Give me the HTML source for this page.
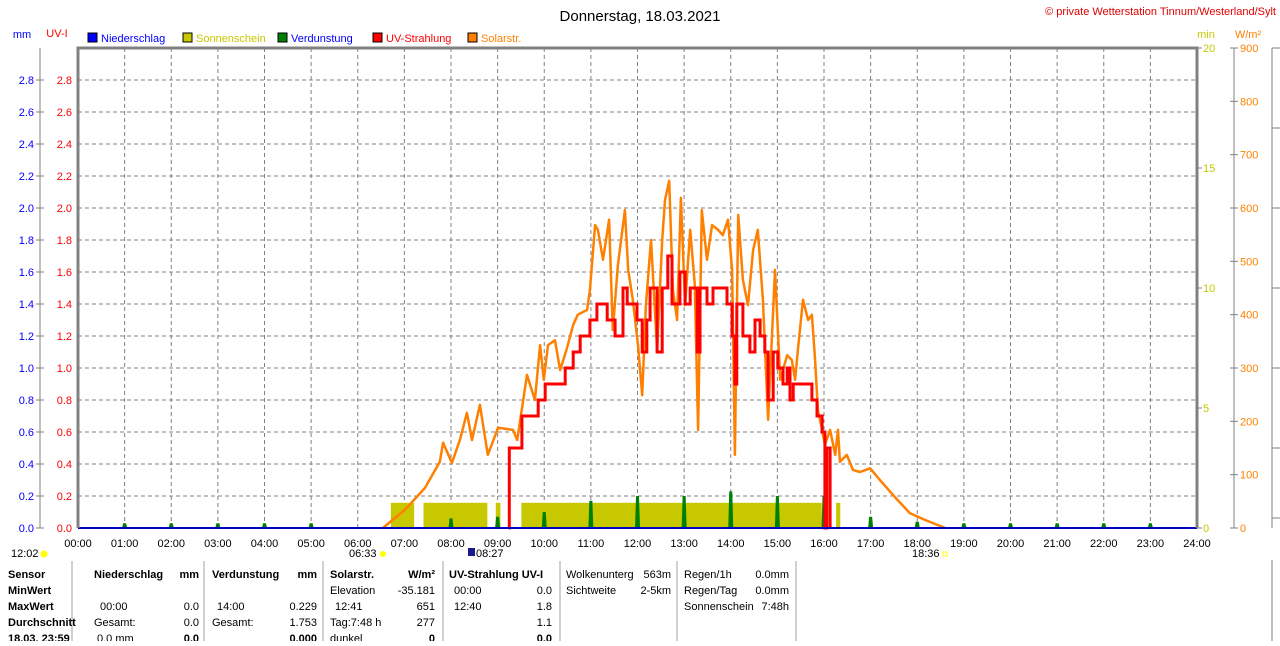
<!DOCTYPE html>
<html><head><meta charset="utf-8"><style>
body{margin:0;background:#fff;width:1280px;height:641px;overflow:hidden;font-family:"Liberation Sans",sans-serif;}
svg text{font-family:"Liberation Sans",sans-serif;}
</style></head><body>
<svg id="c" width="1280" height="641" xmlns="http://www.w3.org/2000/svg"></svg>
<script>
const hourLabels=["00:00","01:00","02:00","03:00","04:00","05:00","06:00","07:00","08:00","09:00","10:00","11:00","12:00","13:00","14:00","15:00","16:00","17:00","18:00","19:00","20:00","21:00","22:00","23:00","24:00"];
const leftTicks=[0,0.2,0.4,0.6,0.8,1.0,1.2,1.4,1.6,1.8,2.0,2.2,2.4,2.6,2.8];
const minTicks=[0,5,10,15,20];
const wTicks=[0,100,200,300,400,500,600,700,800,900];
// Solar radiation (W/m2): time in hours, value
const solarT=[6.54,7.01,7.44,7.76,7.83,8.02,8.19,8.34,8.45,8.62,8.79,9.01,9.33,9.42,9.63,9.80,9.91,9.99,10.08,10.23,10.34,10.49,10.62,10.72,10.92,10.98,11.09,11.15,11.26,11.39,11.47,11.58,11.73,11.80,11.90,12.01,12.10,12.18,12.29,12.42,12.53,12.59,12.68,12.76,12.85,12.93,13.02,13.13,13.23,13.30,13.38,13.49,13.60,13.73,13.83,13.94,14.03,14.09,14.16,14.26,14.37,14.48,14.58,14.69,14.80,14.95,15.06,15.21,15.31,15.38,15.44,15.55,15.66,15.74,15.81,15.87,15.96,16.02,16.13,16.24,16.30,16.34,16.49,16.62,16.77,16.99,17.20,17.52,17.84,18.17,18.60];
const solarV=[0,34,75,124,160,122,165,216,165,231,137,188,184,165,287,240,343,278,343,352,296,338,381,400,409,446,568,559,503,578,371,493,596,484,428,343,249,418,540,334,540,615,651,446,390,619,418,559,456,184,596,503,568,559,549,578,484,137,587,465,418,521,559,428,203,484,278,324,315,278,334,428,390,400,315,221,184,156,184,137,184,124,137,109,105,112,90,58,28,15,0];
// UV index step series
const uvT=[9.24,9.25,9.52,9.87,10.02,10.45,10.62,10.77,10.98,11.13,11.35,11.52,11.69,11.78,11.99,12.10,12.20,12.27,12.42,12.53,12.65,12.74,12.91,13.02,13.13,13.28,13.34,13.49,13.62,13.92,14.03,14.09,14.13,14.26,14.41,14.52,14.63,14.73,14.80,14.91,15.01,15.12,15.21,15.27,15.34,15.74,15.85,15.96,16.02,16.06,16.13];
const uvV=[0,0.5,0.7,0.8,0.9,1.0,1.1,1.2,1.3,1.4,1.3,1.2,1.5,1.4,1.3,1.1,1.3,1.5,1.1,1.5,1.7,1.4,1.6,1.4,1.5,1.1,1.5,1.4,1.5,1.4,1.2,0.9,1.4,1.2,1.1,1.3,1.2,1.1,0.8,1.1,1.0,0.9,1.0,0.8,0.9,0.8,0.7,0.6,0,0.5,0];
// sunshine intervals (start hour, end hour), minutes value
const sunStart=[6.71,7.41,8.96,9.51,16.26];
const sunEnd=[7.21,8.78,9.06,15.95,16.35];
const sunMin=[1.05,1.05,1.05,1.05,1.05];
// evaporation (mm) at each hour
const evapH=[1,2,3,4,5,6,7,8,9,10,11,12,13,14,15,16,17,18,19,20,21,22,23];
const evapV=[0.03,0.03,0.03,0.03,0.03,0,0,0.06,0.07,0.1,0.17,0.2,0.2,0.229,0.2,0.2,0.07,0.04,0.03,0.03,0.03,0.03,0.03];

const X0=78,X1=1197,Y0=528,YT=48;
const xs=h=>X0+(X1-X0)*h/24;
const yL=v=>Y0-v*160;
const yM=v=>Y0-(Y0-YT)*v/20;
const yW=v=>Y0-(Y0-YT)*v/900;
const svg=document.getElementById('c');
const NS="http://www.w3.org/2000/svg";
function mk(tag,attrs,txt){const e=document.createElementNS(NS,tag);for(const k in attrs)e.setAttribute(k,attrs[k]);if(txt!==undefined)e.textContent=txt;svg.appendChild(e);return e;}

let e;
e=mk('text',{x:640,y:21,'font-size':15,'text-anchor':'middle',fill:'#000'},'Donnerstag, 18.03.2021');


e=mk('text',{x:1276,y:15,'font-size':11,'text-anchor':'end',fill:'#e00000'},'© private Wetterstation Tinnum/Westerland/Sylt');


e=mk('text',{x:22,y:38,'font-size':11,'text-anchor':'middle',fill:'#0000ff'},'mm');


e=mk('text',{x:57,y:37,'font-size':11,'text-anchor':'middle',fill:'#ff0000'},'UV-I');


e=mk('text',{x:1206,y:38,'font-size':11,'text-anchor':'middle',fill:'#c8c800'},'min');


e=mk('text',{x:1248,y:38,'font-size':11,'text-anchor':'middle',fill:'#ff8000'},'W/m²');



const legNames=['Niederschlag','Sonnenschein','Verdunstung','UV-Strahlung','Solarstr.'];
const legCols=['#0000ff','#c8c800','#008000','#ff0000','#ff8000'];
const legText=['#0000ff','#c8c800','#0000ff','#ff0000','#ff8000'];
const legX=[88,183,278,373,468];
legNames.forEach((n,i)=>{
  const r=mk('rect',{x:legX[i],y:33,width:9,height:9,fill:legCols[i],stroke:'#000','stroke-width':1});
  
  
  const t=mk('text',{x:legX[i]+13,y:42,'font-size':11,fill:legText[i]},n);
  
  
});

// grid
leftTicks.forEach(v=>{if(v>0){const l=mk('line',{x1:X0,x2:X1,y1:yL(v),y2:yL(v),stroke:'#808080','stroke-dasharray':'4,3'});}});
hourLabels.forEach((s,i)=>{if(i>0&&i<24){const l=mk('line',{x1:xs(i),x2:xs(i),y1:YT,y2:Y0,stroke:'#808080','stroke-dasharray':'4,3'});}});

// left axes
e=mk('line',{x1:40,x2:40,y1:48,y2:528,stroke:'#808080','stroke-width':1});


leftTicks.forEach(v=>{
  const y=yL(v);
  const a=mk('line',{x1:36,x2:44,y1:y,y2:y,stroke:'#808080'});
  const t1=mk('text',{x:34,y:y+4,'font-size':11,'text-anchor':'end',fill:'#0000ff'},v.toFixed(1));
  const t2=mk('text',{x:72,y:y+4,'font-size':11,'text-anchor':'end',fill:'#ff0000'},v.toFixed(1));
});
// right axes
minTicks.forEach(v=>{const y=yM(v);
  const a=mk('line',{x1:1197,x2:1202,y1:y,y2:y,stroke:'#808080'});
  const t=mk('text',{x:1203,y:y+4,'font-size':11,fill:'#c8c800'},String(v));});
e=mk('line',{x1:1234,x2:1234,y1:48,y2:528,stroke:'#808080'});


wTicks.forEach(v=>{const y=yW(v);
  const a=mk('line',{x1:1230,x2:1238,y1:y,y2:y,stroke:'#808080'});
  const t=mk('text',{x:1240,y:y+4,'font-size':11,fill:'#ff8000'},String(v));});
// partial right chart edge
e=mk('path',{d:'M1272,48 H1280 M1272,48 V528 M1272,128 H1280 M1272,208 H1280 M1272,288 H1280 M1272,368 H1280 M1272,448 H1280 M1272,518 H1280 M1272,560 V641',stroke:'#808080',fill:'none'});



// sunshine bars
sunStart.forEach((s,i)=>{const r=mk('rect',{x:xs(s),y:yM(sunMin[i]),width:xs(sunEnd[i])-xs(s),height:Y0-yM(sunMin[i]),fill:'#c8c800'});});
// evaporation spikes
evapH.forEach((h,i)=>{const v=evapV[i];if(v<=0)return;const x=xs(h);const p=mk('polygon',{points:`${x-2.5},${Y0} ${x-1.5},${yL(v)} ${x+1.5},${yL(v)} ${x+2.5},${Y0}`,fill:'#008000'});});
// solar line
e=mk('polyline',{points:solarT.map((t,i)=>xs(t).toFixed(1)+','+yW(solarV[i]).toFixed(1)).join(' '),fill:'none',stroke:'#ff8000','stroke-width':2.5,'stroke-linejoin':'round'});


// UV step line
let pts=[];uvT.forEach((t,i)=>{if(i>0)pts.push(xs(t).toFixed(1)+','+yL(uvV[i-1]).toFixed(1));pts.push(xs(t).toFixed(1)+','+yL(uvV[i]).toFixed(1));});
e=mk('polyline',{points:pts.join(' '),fill:'none',stroke:'#ff0000','stroke-width':3});


// baseline
e=mk('line',{x1:X0,x2:X1,y1:Y0,y2:Y0,stroke:'#0000c0','stroke-width':2});


// plot frame
e=mk('path',{d:`M${X0},${Y0} V${YT} H${X1} V${Y0}`,fill:'none',stroke:'#808080','stroke-width':3});


// x labels
hourLabels.forEach((s,i)=>{const t=mk('text',{x:xs(i),y:547,'font-size':11,'text-anchor':'middle',fill:'#000'},s);});
// sun markers
e=mk('text',{x:11,y:557,'font-size':11,fill:'#000'},'12:02');
e=mk('circle',{cx:44,cy:554,r:3.5,fill:'#ffff00'});
e=mk('text',{x:349,y:557,'font-size':11,fill:'#000'},'06:33');
e=mk('circle',{cx:383,cy:554,r:3,fill:'#ffff00'});
e=mk('rect',{x:468,y:548,width:7,height:8,fill:'#1a1a8c'});
e=mk('text',{x:476,y:557,'font-size':11,fill:'#000'},'08:27');
e=mk('text',{x:912,y:557,'font-size':11,fill:'#000'},'18:36');
e=mk('rect',{x:943,y:552,width:4,height:4,fill:'none',stroke:'#ffff00'});

// table
[72,204,323,443,560,677,796].forEach(x=>{const l=mk('line',{x1:x,x2:x,y1:561,y2:641,stroke:'#a0a0a0'});});
const rows=[574,590,606,622,638];
function T(x,r,s,bold,anchor){const t=mk('text',{x:x,y:rows[r]+4,'font-size':11,fill:'#000','font-weight':bold?'bold':'normal','text-anchor':anchor||'start'},s);}
T(8,0,'Sensor',1);T(8,1,'MinWert',1);T(8,2,'MaxWert',1);T(8,3,'Durchschnitt',1);T(8,4,'18.03. 23:59',1);
T(94,0,'Niederschlag',1);T(199,0,'mm',1,'end');T(100,2,'00:00');T(199,2,'0.0',0,'end');T(94,3,'Gesamt:');T(199,3,'0.0',0,'end');T(97,4,'0.0 mm');T(199,4,'0.0',1,'end');
T(212,0,'Verdunstung',1);T(317,0,'mm',1,'end');T(217,2,'14:00');T(317,2,'0.229',0,'end');T(212,3,'Gesamt:');T(317,3,'1.753',0,'end');T(317,4,'0.000',1,'end');
T(330,0,'Solarstr.',1);T(435,0,'W/m²',1,'end');T(330,1,'Elevation');T(435,1,'-35.181',0,'end');T(335,2,'12:41');T(435,2,'651',0,'end');T(330,3,'Tag:7:48 h');T(435,3,'277',0,'end');T(330,4,'dunkel');T(435,4,'0',1,'end');
T(449,0,'UV-Strahlung UV-I',1);T(454,1,'00:00');T(552,1,'0.0',0,'end');T(454,2,'12:40');T(552,2,'1.8',0,'end');T(552,3,'1.1',0,'end');T(552,4,'0.0',1,'end');
T(566,0,'Wolkenunterg');T(671,0,'563m',0,'end');T(566,1,'Sichtweite');T(671,1,'2-5km',0,'end');
T(684,0,'Regen/1h');T(789,0,'0.0mm',0,'end');T(684,1,'Regen/Tag');T(789,1,'0.0mm',0,'end');T(684,2,'Sonnenschein');T(789,2,'7:48h',0,'end');
</script>
</body></html>
